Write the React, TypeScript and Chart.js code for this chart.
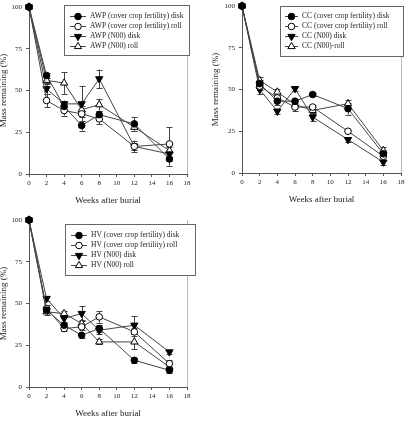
import { useEffect, useRef } from "react";
import { Chart, registerables } from "chart.js";

Chart.register(...registerables);

// Sampling weeks after burial
const weeks = [0, 2, 4, 6, 8, 12, 16];

// Axis ticks
const xTicks = [0, 2, 4, 6, 8, 10, 12, 14, 16, 18];
const yTicks = [0, 25, 50, 75, 100];

// Series labels
const awpLabels = [
  "AWP (cover crop fertility) disk",
  "AWP (cover crop fertility) roll",
  "AWP (N00) disk",
  "AWP (N00) roll",
];
const ccLabels = [
  "CC (cover crop fertility) disk",
  "CC (cover crop fertility) roll",
  "CC (N00) disk",
  "CC (N00)-roll",
];
const hvLabels = [
  "HV (cover crop fertility) disk",
  "HV (cover crop fertility) roll",
  "HV (N00) disk",
  "HV (N00) roll",
];

// Mass remaining (%) — AWP
const awpCoverDisk = [100, 59, 40.5, 29, 35.5, 30, 9];
const awpCoverDiskErr = [0, 1.5, 2.5, 3, 2, 4, 4];
const awpCoverRoll = [100, 44, 38, 36, 33, 16.5, 18];
const awpCoverRollErr = [0, 4, 3, 2, 3, 2, 10];
const awpN00Disk = [100, 51, 42, 42, 57, 16.5, 12];
const awpN00DiskErr = [0, 3, 2, 10.5, 5.5, 3.5, 2];
const awpN00Roll = [100, 56, 54.5, 38.5, 41.5, 28, 14];
const awpN00RollErr = [0, 1.5, 6.5, 2, 3.5, 2, 2];

// Mass remaining (%) — CC
const ccCoverDisk = [100, 53.5, 43, 43, 47, 38.5, 11.5];
const ccCoverDiskErr = [0, 2, 2, 1.5, 1, 3.5, 2];
const ccCoverRoll = [100, 52, 45, 39.5, 39.5, 25, 10];
const ccCoverRollErr = [0, 2, 2, 2.5, 1.5, 1, 2];
const ccN00Disk = [100, 50, 37, 50.5, 33.5, 20, 6.5];
const ccN00DiskErr = [0, 2.5, 1.5, 1.5, 2.5, 1.5, 1.5];
const ccN00Roll = [100, 55.5, 48.5, 41, 37.5, 41.5, 13.5];
const ccN00RollErr = [0, 2, 2, 2, 2, 2.5, 2];

// Mass remaining (%) — HV
const hvCoverDisk = [100, 46, 37, 31, 35, 16, 10];
const hvCoverDiskErr = [0, 1.5, 1.5, 1.5, 2, 1.5, 1.5];
const hvCoverRoll = [100, 47, 35, 36, 42, 33, 14];
const hvCoverRollErr = [0, 2, 1.5, 2, 3.5, 2.5, 2];
const hvN00Disk = [100, 53, 41, 44, 34, 37, 21];
const hvN00DiskErr = [0, 1.5, 2, 4.5, 2, 5.5, 1];
const hvN00Roll = [100, 45, 44, 38, 27, 27, 12];
const hvN00RollErr = [0, 2, 1.5, 2, 1.5, 4.5, 1.5];

const SERIF = "'Liberation Serif', 'Times New Roman', serif";
const AXIS = "#555";
const INK = "#222";
const LINE = "#444";

type Marker = { style: "circle" | "triangle"; rotation: number; filled: boolean; radius: number };
const markers: Marker[] = [
  { style: "circle", rotation: 0, filled: true, radius: 3.3 },
  { style: "circle", rotation: 0, filled: false, radius: 3.3 },
  { style: "triangle", rotation: 180, filled: true, radius: 4.2 },
  { style: "triangle", rotation: 0, filled: false, radius: 4.2 },
];

function drawMarker(ctx: CanvasRenderingContext2D, m: Marker, x: number, y: number) {
  ctx.beginPath();
  if (m.style === "circle") {
    ctx.arc(x, y, m.radius, 0, Math.PI * 2);
  } else {
    let a = (m.rotation * Math.PI) / 180;
    ctx.moveTo(x + Math.sin(a) * m.radius, y - Math.cos(a) * m.radius);
    for (let k = 0; k < 2; k++) {
      a += (2 * Math.PI) / 3;
      ctx.lineTo(x + Math.sin(a) * m.radius, y - Math.cos(a) * m.radius);
    }
    ctx.closePath();
  }
  ctx.fillStyle = m.filled ? "#000" : "#fff";
  ctx.strokeStyle = "#000";
  ctx.lineWidth = 1;
  ctx.fill();
  ctx.stroke();
}

// Vertical error bars with caps, plus the light right-hand frame line
const errorBarPlugin = {
  id: "errorBars",
  beforeDatasetsDraw(chart: any) {
    const { ctx, chartArea, scales } = chart;
    const xs = scales.x;
    const ys = scales.y;
    ctx.save();
    ctx.strokeStyle = "#bbb";
    ctx.lineWidth = 1;
    const rx = Math.round(chartArea.right) + 0.5;
    ctx.beginPath();
    ctx.moveTo(rx, chartArea.top);
    ctx.lineTo(rx, chartArea.bottom);
    ctx.stroke();

    ctx.strokeStyle = LINE;
    chart.data.datasets.forEach((ds: any) => {
      (ds.errors || []).forEach((e: number, i: number) => {
        if (!e) return;
        const p = ds.data[i];
        const px = Math.round(xs.getPixelForValue(p.x)) + 0.5;
        const y1 = ys.getPixelForValue(p.y + e);
        const y2 = ys.getPixelForValue(p.y - e);
        ctx.beginPath();
        ctx.moveTo(px, y1);
        ctx.lineTo(px, y2);
        ctx.moveTo(px - 3, Math.round(y1) + 0.5);
        ctx.lineTo(px + 3, Math.round(y1) + 0.5);
        ctx.moveTo(px - 3, Math.round(y2) + 0.5);
        ctx.lineTo(px + 3, Math.round(y2) + 0.5);
        ctx.stroke();
      });
    });
    ctx.restore();
  },
};

// Boxed legend placed inside the plot
const boxLegendPlugin = {
  id: "boxLegend",
  afterDraw(chart: any, _args: any, opts: any) {
    const { ctx } = chart;
    const { x0, y0, x1, y1, rowY, rowGap, lineX0, lineX1, textX } = opts;
    ctx.save();
    ctx.fillStyle = "#fff";
    ctx.fillRect(x0, y0, x1 - x0, y1 - y0);
    ctx.strokeStyle = "#666";
    ctx.lineWidth = 1;
    ctx.strokeRect(Math.round(x0) + 0.5, Math.round(y0) + 0.5, Math.round(x1 - x0), Math.round(y1 - y0));
    ctx.font = `7.5px ${SERIF}`;
    ctx.textBaseline = "middle";
    chart.data.datasets.forEach((ds: any, i: number) => {
      const cy = Math.round(rowY + i * rowGap) + 0.5;
      ctx.strokeStyle = LINE;
      ctx.beginPath();
      ctx.moveTo(lineX0, cy);
      ctx.lineTo(lineX1, cy);
      ctx.stroke();
      drawMarker(ctx, markers[i], (lineX0 + lineX1) / 2, cy);
      ctx.fillStyle = INK;
      ctx.fillText(ds.label, textX, cy);
    });
    ctx.restore();
  },
};

type Area = { left: number; top: number; right: number; bottom: number };
type LegendBox = {
  x0: number; y0: number; x1: number; y1: number;
  rowY: number; rowGap: number; lineX0: number; lineX1: number; textX: number;
};

type PanelProps = {
  left: number;
  top: number;
  width: number;
  height: number;
  area: Area;
  yTitleX: number;
  xTitleY: number;
  legend: LegendBox;
  labels: string[];
  values: number[][];
  errors: number[][];
};

function Panel(p: PanelProps) {
  const ref = useRef<HTMLCanvasElement | null>(null);

  useEffect(() => {
    if (!ref.current) return;
    const tickFont = { family: SERIF, size: 7 };
    const titleFont = { family: SERIF, size: 9, lineHeight: 1.2 };
    const half = (9 * 1.2) / 2;

    const datasets = p.values.map((vals, i) => {
      const m = markers[i];
      return {
        label: p.labels[i],
        data: weeks.map((w, k) => ({ x: w, y: vals[k] })),
        errors: p.errors[i],
        borderColor: LINE,
        borderWidth: 1,
        backgroundColor: m.filled ? "#000" : "#fff",
        pointBorderColor: "#000",
        pointBackgroundColor: m.filled ? "#000" : "#fff",
        pointBorderWidth: 1,
        pointStyle: m.style,
        pointRotation: m.rotation,
        pointRadius: m.radius,
        tension: 0,
        clip: false as any,
      };
    });

    const chart = new Chart(ref.current, {
      type: "line",
      data: { datasets: datasets as any },
      plugins: [errorBarPlugin, boxLegendPlugin],
      options: {
        animation: false,
        responsive: false,
        devicePixelRatio: 1,
        events: [],
        layout: {
          padding: { left: 0, top: p.area.top, right: p.width - p.area.right, bottom: 0 },
        },
        plugins: {
          legend: { display: false },
          tooltip: { enabled: false },
          boxLegend: p.legend,
        } as any,
        scales: {
          x: {
            type: "linear",
            min: xTicks[0],
            max: xTicks[xTicks.length - 1],
            afterBuildTicks: (s: any) => {
              s.ticks = xTicks.map((v) => ({ value: v }));
            },
            ticks: { font: tickFont, color: INK, padding: 2, maxRotation: 0 },
            grid: { drawOnChartArea: false, drawTicks: true, tickLength: 3, color: AXIS },
            border: { display: true, color: AXIS, width: 1 },
            title: {
              display: true,
              text: "Weeks after burial",
              font: titleFont,
              color: INK,
              padding: { top: 0, bottom: p.height - p.xTitleY - half },
            },
            afterFit: (s: any) => {
              s.height = p.height - p.area.bottom;
              s.paddingLeft = 0;
              s.paddingRight = 0;
            },
          },
          y: {
            type: "linear",
            min: yTicks[0],
            max: yTicks[yTicks.length - 1],
            afterBuildTicks: (s: any) => {
              s.ticks = yTicks.map((v) => ({ value: v }));
            },
            ticks: { font: tickFont, color: INK, padding: 4 },
            grid: { drawOnChartArea: false, drawTicks: true, tickLength: 3, color: AXIS },
            border: { display: true, color: AXIS, width: 1 },
            title: {
              display: true,
              text: "Mass remaining (%)",
              font: titleFont,
              color: INK,
              padding: { top: p.yTitleX - half, bottom: 0 },
            },
            afterFit: (s: any) => {
              s.width = p.area.left;
              s.paddingTop = 0;
              s.paddingBottom = 0;
            },
          },
        },
      } as any,
    });
    return () => chart.destroy();
  }, []);

  return (
    <canvas
      ref={ref}
      width={p.width}
      height={p.height}
      style={{ position: "absolute", left: p.left, top: p.top, width: p.width, height: p.height }}
    />
  );
}

export default function App() {
  return (
    <div style={{ position: "absolute", left: 0, top: 0, width: 408, height: 438, background: "#fff", overflow: "hidden" }}>
      <Panel
        left={0}
        top={0}
        width={204}
        height={210}
        area={{ left: 29, top: 7, right: 187, bottom: 174 }}
        yTitleX={3.5}
        xTitleY={201}
        legend={{ x0: 64, y0: 5, x1: 189, y1: 55, rowY: 15.5, rowGap: 10, lineX0: 70, lineX1: 86, textX: 90 }}
        labels={awpLabels}
        values={[awpCoverDisk, awpCoverRoll, awpN00Disk, awpN00Roll]}
        errors={[awpCoverDiskErr, awpCoverRollErr, awpN00DiskErr, awpN00RollErr]}
      />
      <Panel
        left={204}
        top={0}
        width={204}
        height={210}
        area={{ left: 38, top: 6, right: 197, bottom: 173 }}
        yTitleX={11.5}
        xTitleY={200}
        legend={{ x0: 76, y0: 6, x1: 199, y1: 56, rowY: 16, rowGap: 10, lineX0: 81, lineX1: 94, textX: 98 }}
        labels={ccLabels}
        values={[ccCoverDisk, ccCoverRoll, ccN00Disk, ccN00Roll]}
        errors={[ccCoverDiskErr, ccCoverRollErr, ccN00DiskErr, ccN00RollErr]}
      />
      <Panel
        left={0}
        top={210}
        width={204}
        height={228}
        area={{ left: 29, top: 10, right: 187, bottom: 177 }}
        yTitleX={3.5}
        xTitleY={204}
        legend={{ x0: 65, y0: 14, x1: 195, y1: 65, rowY: 24.5, rowGap: 10, lineX0: 71, lineX1: 87, textX: 91 }}
        labels={hvLabels}
        values={[hvCoverDisk, hvCoverRoll, hvN00Disk, hvN00Roll]}
        errors={[hvCoverDiskErr, hvCoverRollErr, hvN00DiskErr, hvN00RollErr]}
      />
    </div>
  );
}
